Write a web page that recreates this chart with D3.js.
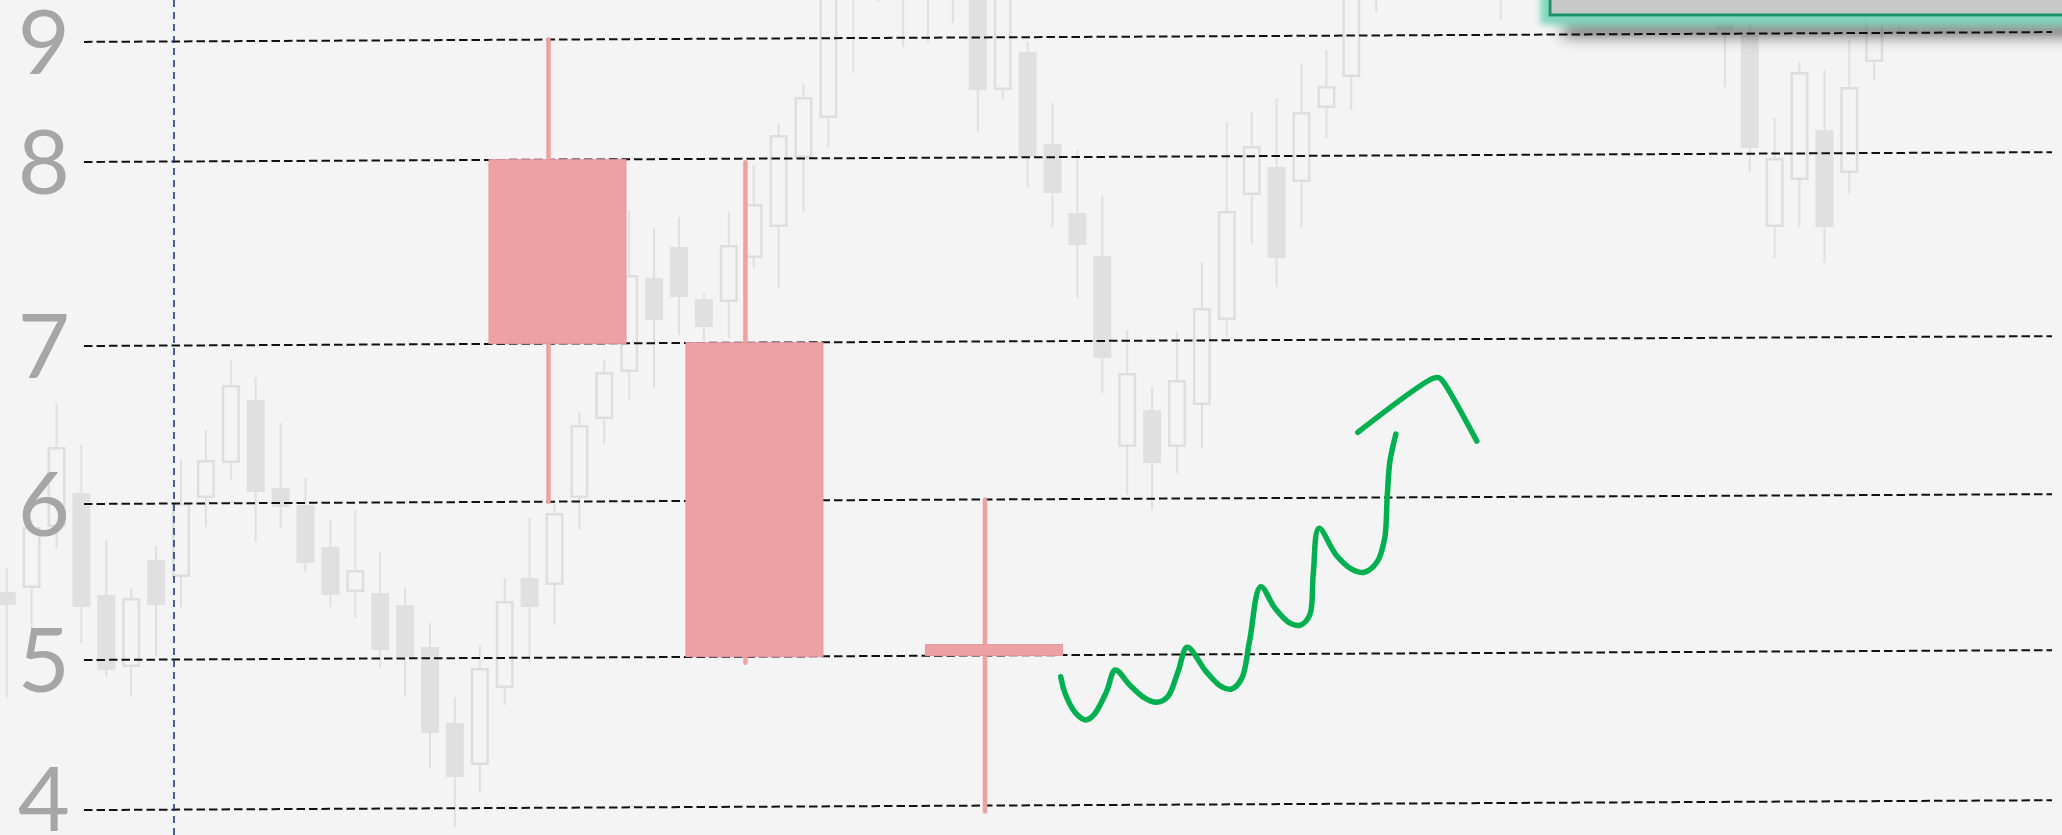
<!DOCTYPE html>
<html lang="en">
<head>
  <meta charset="UTF-8">
  <title>K线示意</title>
  <style>
    html, body { margin: 0; padding: 0; background: #f4f4f4; overflow: hidden; }
    svg { display: block; }
  </style>
</head>
<body>
<div id="chart"></div>
<script src="https://cdn.jsdelivr.net/npm/d3@7/dist/d3.min.js"></script>
<script>
let width = 2062
let height = 835

// 虚线价位
let levels = [4, 5, 6, 7, 8, 9]

// 三根示意K线 (位置 = 背景K线序号)
let keyPos = [22.12, 30.03, 39.65]
let keyOpen = [8, 7, 5.07]
let keyHigh = [9, 7.98, 6]
let keyLow = [6, 4.96, 3.96]
let keyClose = [7, 5, 5]

// 背景淡灰K线
let bgSlot = [0, 1, 2, 3, 4, 5, 6, 7, 8, 9, 10, 11, 12, 13, 14, 15, 16, 17, 18, 19, 20,
  21, 22, 23, 24, 25, 26, 27, 28, 29, 30, 31, 32, 33, 34, 35, 36, 37, 38, 39, 40,
  41, 42, 43, 44, 45, 46, 47, 48, 49, 50, 51, 52, 53, 54, 55, 60, 69, 70, 71, 72, 73, 74, 75, 76]
let bgOpen = [24.3, 24.7, 30.8, 34.2, 24.0, 16.8, 27.5, 25.8, 33.7, 37.2, 43.5, 34.7, 33.0, 28.8, 24.3, 24.2, 23.0, 18.8, 11.2, 7.0, 14.7,
  25.7, 25.0, 33.7, 41.6, 46.3, 55.7, 58.8, 53.6, 53.3, 57.7, 60.8, 67.7, 71.7, 95.5, 93.5, 84.5, 91.5, 84.0, 87.5, 74.5,
  78.3, 69.1, 62.2, 57.9, 38.8, 42.5, 38.8, 43.0, 51.5, 64.0, 66.8, 65.3, 72.7, 75.8, 85.5, 86.5, 89.5, 80.0, 60.8, 65.5, 70.5, 66.2, 77.3, 91.5]
let bgHigh = [26.7, 31.5, 43.2, 39.0, 29.5, 24.7, 28.9, 37.5, 40.5, 47.5, 45.8, 41.2, 35.7, 31.5, 32.5, 28.3, 24.7, 21.2, 13.8, 19.0, 25.7,
  31.7, 33.5, 42.3, 47.5, 62.5, 60.7, 61.8, 54.2, 62.3, 67.0, 71.2, 75.2, 88.5, 97.5, 95.5, 94.5, 93.5, 91.5, 89.5, 87.5,
  79.3, 73.2, 68.5, 64.0, 50.5, 44.8, 50.3, 57.3, 71.3, 72.3, 73.7, 77.2, 78.5, 89.5, 95.5, 96.5, 91.5, 82.0, 71.7, 77.3, 76.5, 79.5, 85.5, 93.5]
let bgLow = [13.8, 20.5, 28.7, 19.2, 15.8, 13.8, 17.8, 22.8, 30.8, 35.5, 29.3, 30.7, 26.2, 22.8, 21.7, 16.7, 13.8, 6.7, 0.8, 4.2, 13.0,
  17.3, 21.0, 30.5, 39.0, 43.5, 44.8, 50.0, 49.3, 49.7, 56.7, 54.7, 62.3, 68.8, 76.2, 83.3, 78.8, 79.3, 81.2, 70.3, 73.5,
  64.8, 60.8, 53.7, 44.2, 34.0, 32.5, 36.2, 38.7, 49.8, 59.0, 54.8, 60.8, 69.7, 72.5, 82.3, 81.5, 74.8, 66.3, 57.7, 60.8, 57.2, 64.2, 75.5, 80.5]
let bgClose = [23.0, 30.8, 38.8, 22.8, 16.5, 23.7, 23.0, 33.2, 37.5, 45.0, 34.3, 32.8, 27.2, 24.0, 26.5, 18.5, 17.8, 10.2, 5.8, 16.7, 23.4,
  22.8, 32.2, 41.0, 46.3, 56.0, 51.5, 53.8, 50.8, 59.0, 63.1, 70.0, 73.8, 86.5, 85.0, 87.5, 92.5, 84.0, 89.5, 74.5, 85.5,
  67.8, 64.2, 59.0, 47.7, 46.2, 37.2, 45.5, 52.7, 62.4, 68.9, 57.7, 72.3, 74.9, 87.5, 93.5, 93.5, 80.5, 68.7, 67.7, 76.3, 60.8, 74.8, 83.2, 84.5]

// 手绘上涨箭头 (序号, 价位)
let arrowIdx = [42.33, 42.53, 42.94, 43.35, 43.66, 44.17, 44.52, 45.10, 45.71, 46.18, 46.63, 47.04, 47.41, 48.17, 48.78, 49.19, 49.60,
  49.91, 50.36, 50.94, 51.55, 51.96, 52.33, 52.47, 52.70, 53.39, 54.01, 54.52, 55.04, 55.34, 55.44, 55.55, 55.79]
let arrowPrice = [4.856, 4.734, 4.612, 4.567, 4.600, 4.755, 4.899, 4.799, 4.710, 4.682, 4.720, 4.885, 5.046, 4.885, 4.784, 4.768, 4.839,
  5.080, 5.432, 5.293, 5.196, 5.185, 5.249, 5.505, 5.804, 5.633, 5.542, 5.521, 5.588, 5.738, 5.995, 6.227, 6.401]
let headIdx = [54.26, 57.29, 57.53, 57.69, 59.04]
let headPrice = [6.413, 6.753, 6.756, 6.731, 6.354]

let svg = d3.select('#chart').append('svg').attr('width', width).attr('height', height)
svg.append('rect').attr('width', width).attr('height', height).attr('fill', '#f4f4f4')

// 比例尺
let x = d3.scaleLinear().domain([0, 76]).range([6.7, 1899.1])
let y = d3.scaleLinear().domain(levels).range([810.5, 660.4, 504.4, 346.4, 162.4, 42.3])
let bgY = d3.scaleLinear().domain([0, 83.5]).range([height, 0])
// 整体略微倾斜
let tilt = 0.005
function py (v, px) { return y(v) - tilt * px }

// 背景K线
let bg = svg.append('g')
bgSlot.forEach((s, i) => {
  let cx = x(s)
  let o = bgOpen[i]
  let c = bgClose[i]
  let top = bgY(Math.max(o, c))
  let bot = bgY(Math.min(o, c))
  bg.append('line')
    .attr('x1', cx).attr('x2', cx)
    .attr('y1', bgY(bgHigh[i])).attr('y2', bgY(bgLow[i]))
    .attr('stroke', '#e0e0e0').attr('stroke-width', 2)
  if (c > o) {
    bg.append('rect')
      .attr('x', cx - 7.75).attr('y', top + 1.25)
      .attr('width', 15.5).attr('height', Math.max(bot - top - 2.5, 0.5))
      .attr('fill', '#f4f4f4').attr('stroke', '#dedede').attr('stroke-width', 2.5)
  } else {
    bg.append('rect')
      .attr('x', cx - 9).attr('y', top)
      .attr('width', 18).attr('height', bot - top)
      .attr('fill', '#e0e0e0')
  }
})

// 价位虚线
let x1 = 84
let x2 = 2052
svg.append('g').selectAll('line').data(levels).enter().append('line')
  .attr('x1', x1).attr('x2', x2)
  .attr('y1', d => py(d, x1)).attr('y2', d => py(d, x2))
  .attr('stroke', '#111').attr('stroke-width', 2).attr('stroke-dasharray', '8.5,4')

// 纵向蓝色虚线
svg.append('line')
  .attr('x1', 174).attr('x2', 174).attr('y1', 0).attr('y2', height)
  .attr('stroke', '#1f3d6e').attr('stroke-width', 1.6).attr('stroke-dasharray', '7,5')

// 价位数字
svg.append('g').selectAll('text').data(levels).enter().append('text')
  .attr('x', 70)
  .attr('y', d => Math.min(py(d, 40) + 32, height - 4))
  .attr('text-anchor', 'end')
  .attr('font-family', 'Lato, "Open Sans", sans-serif')
  .attr('font-size', 90)
  .attr('fill', '#a6a6a6')
  .text(d => d)

// 三根示意K线
let keys = svg.append('g')
keyPos.forEach((p, i) => {
  let cx = x(p)
  let wx = cx - 9
  let top = py(Math.max(keyOpen[i], keyClose[i]), wx)
  let bot = py(Math.min(keyOpen[i], keyClose[i]), wx)
  keys.append('line')
    .attr('x1', wx).attr('x2', wx)
    .attr('y1', py(keyHigh[i], wx)).attr('y2', py(keyLow[i], wx))
    .attr('stroke', '#eda1a3').attr('stroke-width', 4.5).attr('stroke-linecap', 'round')
  keys.append('rect')
    .attr('x', cx - 68.5).attr('y', top)
    .attr('width', 137).attr('height', bot - top)
    .attr('fill', '#eda1a3').attr('stroke', '#e497a2').attr('stroke-width', 1)
})

// 绿色手绘箭头
let pen = d3.line()
  .x(d => x(d[0]))
  .y(d => py(d[1], x(d[0])))
  .curve(d3.curveCatmullRom.alpha(0.5))
svg.append('path').datum(d3.zip(arrowIdx, arrowPrice))
  .attr('d', pen)
  .attr('fill', 'none').attr('stroke', '#00b050').attr('stroke-width', 5.5)
  .attr('stroke-linecap', 'round').attr('stroke-linejoin', 'round')
svg.append('path').datum(d3.zip(headIdx, headPrice))
  .attr('d', pen)
  .attr('fill', 'none').attr('stroke', '#00b050').attr('stroke-width', 5.5)
  .attr('stroke-linecap', 'round').attr('stroke-linejoin', 'round')

// 右上角的框 (发光 + 阴影)
let defs = svg.append('defs')
let f = defs.append('filter').attr('id', 'boxfx')
  .attr('filterUnits', 'userSpaceOnUse')
  .attr('x', 1480).attr('y', -120).attr('width', 700).attr('height', 220)
f.append('feGaussianBlur').attr('in', 'SourceAlpha').attr('stdDeviation', 8).attr('result', 'b1')
f.append('feOffset').attr('in', 'b1').attr('dx', 14).attr('dy', 19).attr('result', 'off')
f.append('feFlood').attr('flood-color', '#000').attr('flood-opacity', 0.6).attr('result', 'sc')
f.append('feComposite').attr('in', 'sc').attr('in2', 'off').attr('operator', 'in').attr('result', 'shadow')
f.append('feMorphology').attr('in', 'SourceAlpha').attr('operator', 'dilate').attr('radius', 8).attr('result', 'dil')
f.append('feGaussianBlur').attr('in', 'dil').attr('stdDeviation', 3).attr('result', 'dilb')
f.append('feFlood').attr('flood-color', '#80d5bb').attr('result', 'gc')
f.append('feComposite').attr('in', 'gc').attr('in2', 'dilb').attr('operator', 'in').attr('result', 'glow')
let m = f.append('feMerge')
m.append('feMergeNode').attr('in', 'shadow')
m.append('feMergeNode').attr('in', 'glow')
m.append('feMergeNode').attr('in', 'SourceGraphic')

svg.append('rect')
  .attr('x', 1550).attr('y', -60).attr('width', 560).attr('height', 75)
  .attr('fill', '#c8c8c8').attr('stroke', '#1b9466').attr('stroke-width', 3)
  .attr('filter', 'url(#boxfx)')
</script>
</body>
</html>
